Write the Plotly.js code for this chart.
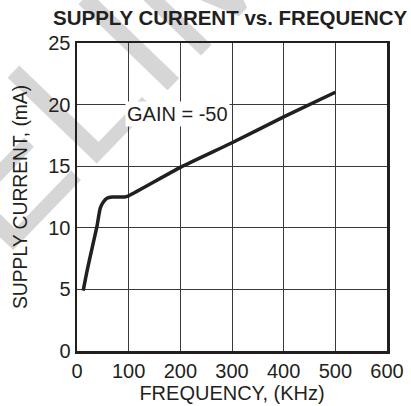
<!DOCTYPE html>
<html><head><meta charset="utf-8">
<script src="https://cdn.plot.ly/plotly-3.0.1.min.js"></script>
<style>
html,body{margin:0;padding:0;background:#fff;overflow:hidden;}
#wrap{position:relative;width:411px;height:406px;overflow:hidden;}
#wm{position:absolute;left:-280px;top:335px;font-family:"Liberation Sans",Arial,sans-serif;font-weight:normal;font-size:180px;line-height:1;color:#d6d6d6;transform:rotate(-46deg);transform-origin:0 0;white-space:nowrap;z-index:0;}
#chart{position:absolute;left:0;top:0;width:411px;height:406px;z-index:1;}
</style></head><body>
<div id="wrap"><div id="wm">PRELIMINARY</div><div id="chart"></div></div>
<script>
var freq = [12, 20, 30, 39, 45, 51, 58, 68, 80, 92, 100, 200, 300, 400, 500];
var current = [4.9, 6.6, 8.5, 10.2, 11.6, 12.1, 12.4, 12.5, 12.5, 12.5, 12.6, 14.9, 16.9, 19.0, 21.0];
var xTicks = [0, 100, 200, 300, 400, 500, 600];
var yTicks = [0, 5, 10, 15, 20, 25];
var F = '"Liberation Sans", Arial, sans-serif';
Plotly.newPlot('chart', [{
  x: freq, y: current, mode: 'lines', type: 'scatter',
  line: {color: '#231f20', width: 3.5, shape: 'spline', smoothing: 0.6},
  hoverinfo: 'skip'
}], {
  width: 411, height: 406,
  margin: {l: 77, r: 24, t: 43, b: 55},
  paper_bgcolor: 'rgba(0,0,0,0)', plot_bgcolor: 'rgba(0,0,0,0)',
  showlegend: false,
  title: {text: '<b>SUPPLY CURRENT vs. FREQUENCY</b>', font: {family: F, size: 20.5, color: '#231f20'}, x: 0.56, xanchor: 'center', y: 0.955, yanchor: 'middle'},
  xaxis: {range: [0, 600], tickvals: xTicks, ticktext: xTicks.map(String), showgrid: true, gridcolor: '#3a3a3a', gridwidth: 1,
    zeroline: false, showline: true, linecolor: '#231f20', linewidth: 2.5, mirror: true, ticks: '',
    tickfont: {family: F, size: 20, color: '#231f20'},
    title: {text: 'FREQUENCY, (KHz)', font: {family: F, size: 20, color: '#231f20'}, standoff: 2}},
  yaxis: {range: [0, 25], tickvals: yTicks, ticktext: yTicks.map(String), showgrid: true, gridcolor: '#3a3a3a', gridwidth: 1,
    zeroline: false, showline: true, linecolor: '#231f20', linewidth: 2.5, mirror: true, ticks: '',
    tickfont: {family: F, size: 20, color: '#231f20'},
    title: {text: 'SUPPLY CURRENT, (mA)', font: {family: F, size: 19.3, color: '#231f20'}, standoff: 16}},
  annotations: [{x: 195, y: 19.2, xref: 'x', yref: 'y', text: 'GAIN = -50', showarrow: false,
    font: {family: F, size: 20, color: '#231f20'}, bgcolor: '#ffffff', borderpad: 1}]
}, {staticPlot: true});
</script>
</body></html>
